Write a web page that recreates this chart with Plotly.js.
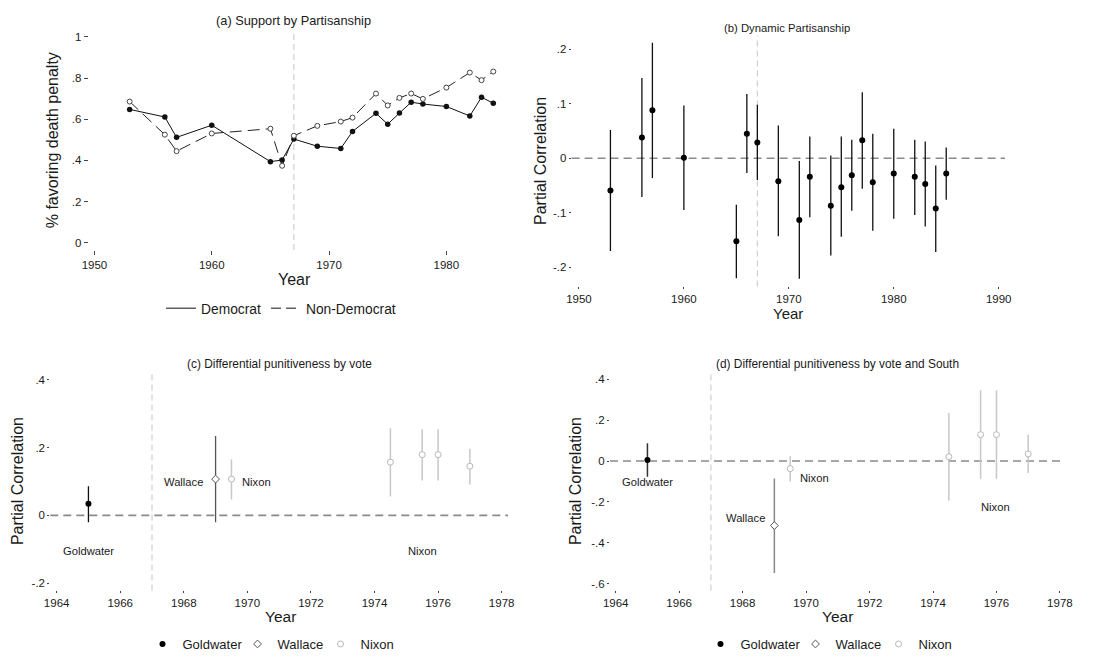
<!DOCTYPE html>
<html><head><meta charset="utf-8">
<script src="https://cdn.plot.ly/plotly-3.0.1.min.js"></script>
<style>html,body{margin:0;padding:0;background:#fff}</style>
</head><body><div id="chart" style="width:1103px;height:659px"></div>
<script>
// ---- Panel (a): support by partisanship ----
const yearsA = [1953,1956,1957,1960,1965,1966,1967,1969,1971,1972,1974,1975,1976,1977,1978,1980,1982,1983,1984];
const democrat = [0.648,0.611,0.512,0.571,0.394,0.402,0.504,0.469,0.458,0.541,0.629,0.576,0.630,0.683,0.674,0.662,0.616,0.707,0.678];
const nonDemocrat = [0.686,0.525,0.445,0.531,0.554,0.374,0.520,0.568,0.589,0.608,0.725,0.667,0.704,0.725,0.699,0.754,0.827,0.790,0.832];

// ---- Panel (b): dynamic partisanship ----
const yearsB = [1953,1956,1957,1960,1965,1966,1967,1969,1971,1972,1974,1975,1976,1977,1978,1980,1982,1983,1984,1985];
const corrB  = [-0.059,0.038,0.088,0.001,-0.152,0.045,0.029,-0.042,-0.113,-0.034,-0.087,-0.053,-0.031,0.033,-0.044,-0.028,-0.034,-0.047,-0.092,-0.028];
const upperB = [0.052,0.147,0.212,0.097,-0.085,0.118,0.098,0.060,-0.005,0.040,0.005,0.040,0.034,0.121,0.045,0.054,0.034,0.031,-0.013,0.020];
const lowerB = [-0.170,-0.071,-0.036,-0.095,-0.220,-0.027,-0.040,-0.143,-0.221,-0.108,-0.178,-0.144,-0.096,-0.056,-0.133,-0.111,-0.104,-0.125,-0.172,-0.076];

// ---- Panel (c): differential punitiveness by vote ----
const goldYear = [1965];
const goldC = [0.034], goldCup = [0.086], goldClo = [-0.020];
const wallYear = [1969];
const wallC = [0.107], wallCup = [0.234], wallClo = [-0.020];
const nixYears = [1969.5,1974.5,1975.5,1976,1977];
const nixC   = [0.107,0.157,0.179,0.179,0.145];
const nixCup = [0.165,0.257,0.254,0.254,0.196];
const nixClo = [0.047,0.056,0.103,0.103,0.091];

// ---- Panel (d): differential punitiveness by vote and South ----
const goldD = [0.005], goldDup = [0.087], goldDlo = [-0.077];
const wallD = [-0.316], wallDup = [-0.085], wallDlo = [-0.548];
const nixD   = [-0.037,0.021,0.129,0.129,0.035];
const nixDup = [0.023,0.235,0.347,0.347,0.129];
const nixDlo = [-0.100,-0.194,-0.087,-0.087,-0.058];

// tick labels
const tickA = {vals:[0,0.2,0.4,0.6,0.8,1], text:['0','.2','.4','.6','.8','1']};
const tickB = {vals:[-0.2,-0.1,0,0.1,0.2], text:['-.2','-.1','0','.1','.2']};
const tickC = {vals:[-0.2,0,0.2,0.4], text:['-.2','0','.2','.4']};
const tickD = {vals:[-0.6,-0.4,-0.2,0,0.2,0.4], text:['-.6','-.4','-.2','0','.2','.4']};
const xTicksAB = [1950,1960,1970,1980,1990];
const xTicksCD = [1964,1966,1968,1970,1972,1974,1976,1978];

const W = 1103, H = 659;
const px = v => v / W;
const py = v => 1 - v / H;
const FONT = 'Liberation Sans, Arial, Helvetica, sans-serif';
const TXT = '#1a1a1a';

function up(v, u) { return u.map((x, i) => x - v[i]); }
function dn(v, l) { return l.map((x, i) => v[i] - x); }
function err(v, u, l, color, w) {
  return {type:'data', symmetric:false, array:up(v,u), arrayminus:dn(v,l), width:0, thickness:w, color:color};
}

const traces = [
  // panel a
  {x:yearsA, y:democrat, mode:'lines+markers', xaxis:'x', yaxis:'y', showlegend:false,
   line:{color:'#111', width:1}, marker:{symbol:'circle', size:5.5, color:'#111'}},
  {x:yearsA, y:nonDemocrat, mode:'lines+markers', xaxis:'x', yaxis:'y', showlegend:false,
   line:{color:'#222', width:1, dash:'12px,6px'},
   marker:{symbol:'circle', size:5, color:'#fff', line:{color:'#444', width:1}}},
  {x:[null], y:[null], mode:'lines', name:'Democrat', xaxis:'x', yaxis:'y', legend:'legend',
   line:{color:'#111', width:1}},
  {x:[null], y:[null], mode:'lines', name:'Non-Democrat', xaxis:'x', yaxis:'y', legend:'legend',
   line:{color:'#111', width:1, dash:'10px,5px'}},
  // panel b
  {x:yearsB, y:corrB, mode:'markers', xaxis:'x2', yaxis:'y2', showlegend:false,
   marker:{symbol:'circle', size:6, color:'#000'}, error_y:err(corrB, upperB, lowerB, '#111', 1.3)},
  // panel c
  {x:goldYear, y:goldC, mode:'markers', name:'Goldwater', xaxis:'x3', yaxis:'y3', legend:'legend2', legendwidth:50,
   marker:{symbol:'circle', size:6, color:'#000'}, error_y:err(goldC, goldCup, goldClo, '#111', 1.3)},
  {x:wallYear, y:wallC, mode:'markers', name:'Wallace', xaxis:'x3', yaxis:'y3', legend:'legend2', legendwidth:38,
   marker:{symbol:'diamond', size:6, color:'#fff', line:{color:'#555', width:1}}, error_y:err(wallC, wallCup, wallClo, '#555', 1.3)},
  {x:nixYears, y:nixC, mode:'markers', name:'Nixon', xaxis:'x3', yaxis:'y3', legend:'legend2', legendwidth:36,
   marker:{symbol:'circle', size:6, color:'#fff', line:{color:'#b8b8b8', width:1}}, error_y:err(nixC, nixCup, nixClo, '#c8c8c8', 1.5)},
  // panel d
  {x:goldYear, y:goldD, mode:'markers', name:'Goldwater', xaxis:'x4', yaxis:'y4', legend:'legend3', legendwidth:50,
   marker:{symbol:'circle', size:6, color:'#000'}, error_y:err(goldD, goldDup, goldDlo, '#333', 1.5)},
  {x:wallYear, y:wallD, mode:'markers', name:'Wallace', xaxis:'x4', yaxis:'y4', legend:'legend3', legendwidth:38,
   marker:{symbol:'diamond', size:6, color:'#fff', line:{color:'#555', width:1}}, error_y:err(wallD, wallDup, wallDlo, '#888', 1.5)},
  {x:nixYears, y:nixD, mode:'markers', name:'Nixon', xaxis:'x4', yaxis:'y4', legend:'legend3', legendwidth:36,
   marker:{symbol:'circle', size:6, color:'#fff', line:{color:'#b8b8b8', width:1}}, error_y:err(nixD, nixDup, nixDlo, '#c8c8c8', 1.5)}
];

function xa(dom, range, vals, anchor, tl) {
  return {domain:[px(dom[0]), px(dom[1])], range:range, anchor:anchor, tickvals:vals, ticktext:vals.map(String),
    showgrid:false, zeroline:false, showline:false, ticks:'outside', ticklen:tl, tickwidth:1, tickcolor:'#444',
    tickfont:{family:FONT, size:11.5, color:TXT}, fixedrange:true};
}
function ya(dom, range, t, anchor, tl) {
  return {domain:[py(dom[1]), py(dom[0])], range:range, anchor:anchor, tickvals:t.vals, ticktext:t.text,
    showgrid:false, zeroline:false, showline:false, ticks:'outside', ticklen:tl, tickwidth:1, tickcolor:'#444',
    tickfont:{family:FONT, size:11.5, color:TXT}, fixedrange:true};
}

function ann(text, x, y, size, extra) {
  return Object.assign({text:text, x:px(x), y:py(y), xref:'paper', yref:'paper', showarrow:false,
    xanchor:'center', yanchor:'middle', font:{family:FONT, size:size, color:TXT}}, extra || {});
}
function lab(text, x, y, xr, yr) {
  return {text:text, x:x, y:y, xref:xr, yref:yr, showarrow:false, xanchor:'center', yanchor:'middle',
    font:{family:FONT, size:11.2, color:TXT}};
}

const vline = (xr, yr) => ({type:'line', xref:xr, yref:yr + ' domain', x0:1967, x1:1967, y0:0, y1:1,
  line:{color:'#cfcfcf', width:1.2, dash:'6px,4px'}, layer:'below'});
const hline = (xr, yr) => ({type:'line', xref:xr + ' domain', yref:yr, x0:0, x1:1, y0:0, y1:0,
  line:{color:'#8a8a8a', width:1.6, dash:'8px,5px'}, layer:'below'});

const layout = {
  width:W, height:H, autosize:false, margin:{l:0, r:0, t:0, b:0},
  paper_bgcolor:'#fff', plot_bgcolor:'rgba(0,0,0,0)',
  font:{family:FONT, color:TXT},
  xaxis: xa([88.6,505], [1949.5,1985], [1950,1960,1970,1980], 'y', 4),
  yaxis: ya([32,253], [-0.035,1.026], tickA, 'x', 4),
  xaxis2: xa([571.6,1005], [1949.3,1990.6], xTicksAB, 'y2', 2),
  yaxis2: ya([36,290], [-0.235,0.225], tickB, 'x2', 2),
  xaxis3: xa([50.3,508], [1963.8,1978.2], xTicksCD, 'y3', 2),
  yaxis3: ya([376,597.7], [-0.221,0.424], tickC, 'x3', 2),
  xaxis4: xa([610,1065], [1963.82,1978.16], xTicksCD, 'y4', 2),
  yaxis4: ya([376,597.7], [-0.634,0.439], tickD, 'x4', 2),
  shapes:[vline('x','y'), vline('x2','y2'), hline('x2','y2'), vline('x3','y3'), hline('x3','y3'), vline('x4','y4'), hline('x4','y4')],
  legend:{orientation:'h', x:px(281), y:py(312), xanchor:'center', yanchor:'middle', bgcolor:'rgba(0,0,0,0)',
    font:{family:FONT, size:13.8, color:TXT}, itemwidth:30, tracegroupgap:0},
  legend2:{orientation:'h', x:px(272), y:py(652), xanchor:'center', yanchor:'middle', bgcolor:'rgba(0,0,0,0)',
    font:{family:FONT, size:13, color:TXT}, itemwidth:30},
  legend3:{orientation:'h', x:px(830), y:py(652), xanchor:'center', yanchor:'middle', bgcolor:'rgba(0,0,0,0)',
    font:{family:FONT, size:13, color:TXT}, itemwidth:30},
  annotations:[
    ann('(a) Support by Partisanship', 293, 21, 12.8),
    ann('Year', 294, 283, 16),
    ann('% favoring death penalty', 52, 142, 16, {textangle:-90}),
    ann('(b) Dynamic Partisanship', 787, 28, 11.3),
    ann('Year', 788, 317, 15),
    ann('Partial Correlation', 540, 163, 16, {textangle:-90}),
    ann('(c) Differential punitiveness by vote', 279, 368, 11.9),
    ann('Year', 280, 624, 15.5),
    ann('Partial Correlation', 17, 487, 16, {textangle:-90}),
    ann('(d) Differential punitiveness by vote and South', 837, 368, 11.9),
    ann('Year', 837, 624, 15.5),
    ann('Partial Correlation', 575, 487, 16, {textangle:-90}),
    lab('Goldwater', 1965, -0.104, 'x3', 'y3'),
    lab('Wallace', 1968.0, 0.098, 'x3', 'y3'),
    lab('Nixon', 1970.3, 0.098, 'x3', 'y3'),
    lab('Nixon', 1975.5, -0.104, 'x3', 'y3'),
    lab('Goldwater', 1965.0, -0.103, 'x4', 'y4'),
    lab('Wallace', 1968.09, -0.277, 'x4', 'y4'),
    lab('Nixon', 1970.28, -0.084, 'x4', 'y4'),
    lab('Nixon', 1975.96, -0.224, 'x4', 'y4')
  ]
};

Plotly.newPlot('chart', traces, layout, {displayModeBar:false, staticPlot:true});
</script>
</body></html>
